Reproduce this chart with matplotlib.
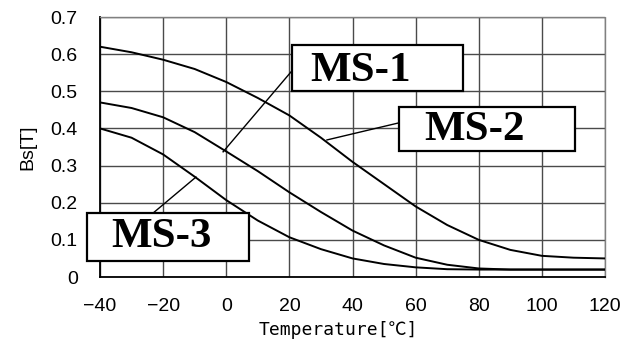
import numpy as np
import matplotlib
matplotlib.use('Agg')
import matplotlib.pyplot as plt
from matplotlib.patches import Rectangle

temps = [-40, -30, -20, -10, 0, 10, 20, 30, 40, 50, 60, 70, 80, 90, 100, 110, 120]
ms1 = [0.62, 0.605, 0.585, 0.56, 0.525, 0.482, 0.435, 0.375, 0.31, 0.25, 0.19,
       0.14, 0.10, 0.073, 0.057, 0.052, 0.05]
ms2 = [0.47, 0.455, 0.43, 0.39, 0.338, 0.285, 0.228, 0.175, 0.125, 0.085, 0.052,
       0.033, 0.023, 0.02, 0.02, 0.02, 0.02]
ms3 = [0.40, 0.375, 0.33, 0.27, 0.207, 0.152, 0.107, 0.075, 0.05, 0.035, 0.026,
       0.021, 0.02, 0.02, 0.02, 0.02, 0.02]

labels = ['MS-1', 'MS-2', 'MS-3']
xticks = [-40, -20, 0, 20, 40, 60, 80, 100, 120]
yticks = [0, 0.1, 0.2, 0.3, 0.4, 0.5, 0.6, 0.7]
ytick_labels = ['0', '0.1', '0.2', '0.3', '0.4', '0.5', '0.6', '0.7']

# label boxes (x0, x1, y0, y1), text centre, leader line (curve point -> box)
boxes = [(20.8, 75.0, 0.501, 0.625), (54.7, 110.5, 0.339, 0.458), (-44.1, 7.2, 0.043, 0.172)]
text_pos = [(42.7, 0.555), (78.8, 0.396), (-20.4, 0.108)]
leaders = [((-1.0, 0.337), (20.8, 0.555)),
           ((31.9, 0.369), (54.7, 0.415)),
           ((-9.6, 0.269), (-23.2, 0.172))]

fig = plt.figure(figsize=(6.33, 3.39), dpi=100)
ax = fig.add_axes([100 / 633, 1 - 277 / 339, 505 / 633, 260 / 339])

for y in (ms1, ms2, ms3):
    ax.plot(temps, y, color='black', lw=1.4, zorder=3)

ax.set_xlim(-40, 120)
ax.set_ylim(0, 0.7)
ax.set_xticks(xticks)
ax.set_yticks(yticks)
ax.set_yticklabels(ytick_labels)
ax.grid(True, color='#4a4a4a', lw=1.0)
ax.set_axisbelow(True)
ax.tick_params(length=0)
ax.tick_params(axis='x', pad=15, labelsize=14)
ax.tick_params(axis='y', pad=16, labelsize=14)
for lab in ax.get_xticklabels() + ax.get_yticklabels():
    lab.set_family('Liberation Sans')

for side in ('left', 'bottom'):
    ax.spines[side].set_color('black')
    ax.spines[side].set_linewidth(1.3)
for side in ('top', 'right'):
    ax.spines[side].set_color('#808080')
    ax.spines[side].set_linewidth(1.0)
    ax.spines[side].set_linestyle((0, (1, 1)))

ax.set_xlabel('Temperature[℃]', family=['DejaVu Sans Mono', 'Noto Sans CJK JP'], fontsize=13)
ax.xaxis.set_label_coords(0.471, -0.17)
ax.set_ylabel('Bs[T]', family='Liberation Sans', fontsize=14)
ax.yaxis.set_label_coords(-0.125, 0.5)

for lab, (x0, x1, y0, y1), (tx, ty), (p0, p1) in zip(labels, boxes, text_pos, leaders):
    ax.plot([p0[0], p1[0]], [p0[1], p1[1]], color='black', lw=1.0, zorder=4, clip_on=False)
    rect = Rectangle((x0, y0), x1 - x0, y1 - y0, facecolor='white', edgecolor='black',
                     lw=1.6, zorder=5, clip_on=False)
    ax.add_patch(rect)
    ax.text(tx, ty, lab, ha='center', va='center', family='Liberation Serif',
            weight='bold', fontsize=31, zorder=6)

fig.savefig('out.png', dpi=100)
